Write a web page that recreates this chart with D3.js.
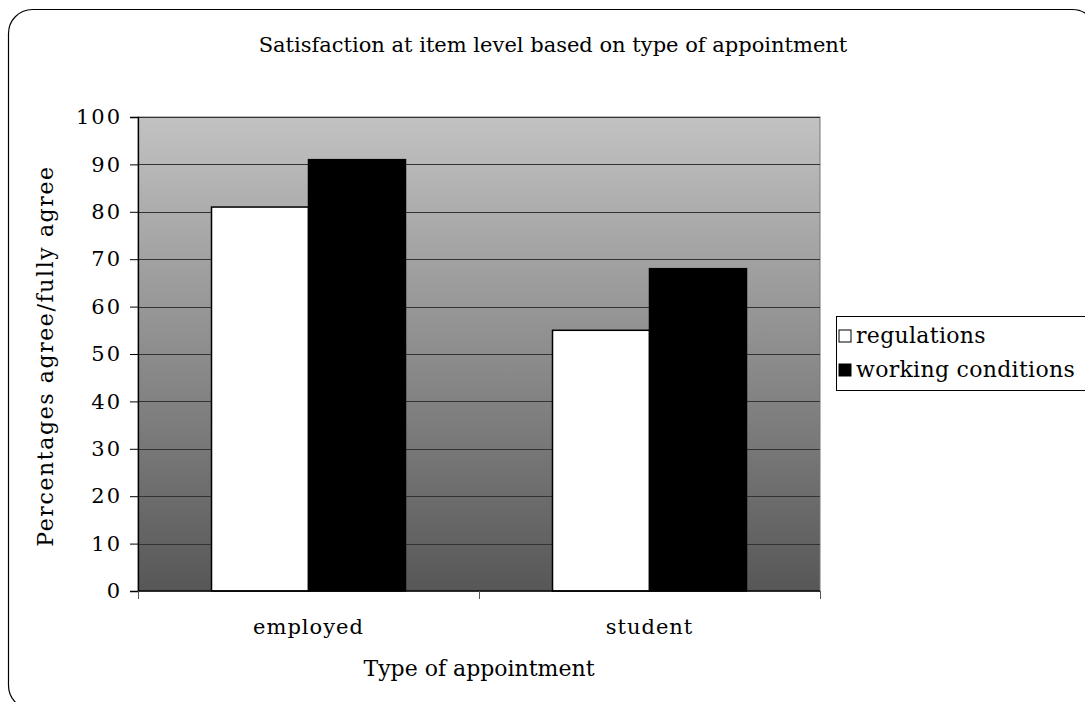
<!DOCTYPE html>
<html>
<head>
<meta charset="utf-8">
<script src="https://cdn.jsdelivr.net/npm/d3@7"></script>
<style>
  body { margin: 0; background: #fff; }
  svg text { font-family: "DejaVu Serif", serif; fill: #000; }
</style>
</head>
<body>
<div class="chart"></div>
<script>
var w = 1085;
var h = 702;

// data
var categories = ["employed", "student"];
var seriesNames = ["regulations", "working conditions"];
var regulations = [81, 55];
var workingConditions = [91, 68];
var yTicks = [0, 10, 20, 30, 40, 50, 60, 70, 80, 90, 100];

var colors = { "regulations": "#fff", "working conditions": "#000" };

var plot = { left: 138, top: 117, right: 820, bottom: 591 };

var svg = d3.select(".chart").append("svg")
  .attr("width", w)
  .attr("height", h);

// outer rounded frame (runs off the right/bottom edge like the original)
svg.append("rect")
  .attr("x", 8.5).attr("y", 9.5)
  .attr("width", 1088).attr("height", 700)
  .attr("rx", 24).attr("ry", 24)
  .attr("fill", "#fff")
  .attr("stroke", "#000")
  .attr("stroke-width", 1.2);

var defs = svg.append("defs");
var grad = defs.append("linearGradient")
  .attr("id", "bg").attr("x1", 0).attr("y1", 0).attr("x2", 0).attr("y2", 1);
grad.append("stop").attr("offset", "0%").attr("stop-color", "#c2c2c2");
grad.append("stop").attr("offset", "100%").attr("stop-color", "#575757");

var y = d3.scaleLinear()
  .domain([0, 100])
  .range([plot.bottom, plot.top]);

var x0 = d3.scaleBand()
  .domain(categories)
  .range([plot.left, plot.right])
  .padding(0);

var x1 = d3.scaleBand()
  .domain(seriesNames)
  .range([0, x0.bandwidth()])
  .paddingInner(0)
  .paddingOuter(0.758);

// plot background
svg.append("rect")
  .attr("x", plot.left).attr("y", plot.top)
  .attr("width", plot.right - plot.left)
  .attr("height", plot.bottom - plot.top)
  .attr("fill", "url(#bg)")
  .attr("stroke", "#777")
  .attr("stroke-width", 1);

// gridlines
svg.append("g")
  .selectAll("line")
  .data(yTicks.filter(function (d) { return d > 0; }))
  .enter()
  .append("line")
  .attr("x1", plot.left).attr("x2", plot.right)
  .attr("y1", function (d) { return Math.round(y(d)) + 0.5; })
  .attr("y2", function (d) { return Math.round(y(d)) + 0.5; })
  .attr("stroke", "#333")
  .attr("stroke-width", 1);

// bars
var rows = categories.map(function (c, i) {
  return [
    { cat: c, key: "regulations", value: regulations[i] },
    { cat: c, key: "working conditions", value: workingConditions[i] }
  ];
});

svg.append("g")
  .selectAll("g")
  .data(rows)
  .enter()
  .append("g")
  .attr("transform", function (d) { return "translate(" + x0(d[0].cat) + ",0)"; })
  .selectAll("rect")
  .data(function (d) { return d; })
  .enter()
  .append("rect")
  .attr("x", function (d) { return x1(d.key); })
  .attr("y", function (d) { return y(d.value); })
  .attr("width", x1.bandwidth())
  .attr("height", function (d) { return y(0) - y(d.value); })
  .attr("fill", function (d) { return colors[d.key]; })
  .attr("stroke", "#000")
  .attr("stroke-width", 1.5);

// y axis
var yAxis = svg.append("g")
  .attr("transform", "translate(" + plot.left + ",0)")
  .call(d3.axisLeft(y).tickValues(yTicks).tickSize(8).tickPadding(8));
yAxis.select(".domain").attr("stroke", "#000").attr("stroke-width", 1.3);
yAxis.selectAll(".tick line").attr("stroke", "#000");
yAxis.selectAll("text")
  .attr("font-size", 21)
  .attr("letter-spacing", 2)
  .attr("font-family", "DejaVu Serif");

// x axis: ticks at band boundaries
var xAxis = svg.append("g")
  .attr("transform", "translate(0," + plot.bottom + ")");
xAxis.append("line")
  .attr("x1", plot.left).attr("x2", plot.right)
  .attr("y1", 0).attr("y2", 0)
  .attr("stroke", "#000").attr("stroke-width", 1.3);
var bounds = categories.map(function (c) { return x0(c); }).concat([plot.right]);
xAxis.selectAll("line.tk")
  .data(bounds)
  .enter()
  .append("line")
  .attr("class", "tk")
  .attr("x1", function (d) { return Math.round(d) + 0.5; })
  .attr("x2", function (d) { return Math.round(d) + 0.5; })
  .attr("y1", 0).attr("y2", 8)
  .attr("stroke", "#555");
xAxis.selectAll("text")
  .data(categories)
  .enter()
  .append("text")
  .attr("x", function (d) { return x0(d) + x0.bandwidth() / 2; })
  .attr("y", 43)
  .attr("text-anchor", "middle")
  .attr("font-size", 21)
  .attr("letter-spacing", 1)
  .text(function (d) { return d; });

// titles
svg.append("text")
  .attr("x", 553).attr("y", 52)
  .attr("text-anchor", "middle")
  .attr("font-size", 21)
  .text("Satisfaction at item level based on type of appointment");

svg.append("text")
  .attr("x", 479).attr("y", 676)
  .attr("text-anchor", "middle")
  .attr("font-size", 22)
  .text("Type of appointment");

svg.append("text")
  .attr("transform", "translate(53,356) rotate(-90)")
  .attr("text-anchor", "middle")
  .attr("font-size", 22)
  .attr("letter-spacing", 1.6)
  .text("Percentages agree/fully agree");

// legend
var legend = svg.append("g").attr("transform", "translate(836,316)");
legend.append("rect")
  .attr("x", 0.5).attr("y", 0.5)
  .attr("width", 300).attr("height", 74)
  .attr("fill", "#fff")
  .attr("stroke", "#000");
var li = legend.selectAll("g.item")
  .data(seriesNames)
  .enter()
  .append("g")
  .attr("class", "item")
  .attr("transform", function (d, i) { return "translate(0," + (20 + i * 34) + ")"; });
li.append("rect")
  .attr("x", 3).attr("y", -6)
  .attr("width", 12).attr("height", 12)
  .attr("fill", function (d) { return colors[d]; })
  .attr("stroke", "#000");
li.append("text")
  .attr("x", 20).attr("y", 7)
  .attr("font-size", 22)
  .attr("letter-spacing", 0.3)
  .text(function (d) { return d; });
</script>
</body>
</html>
